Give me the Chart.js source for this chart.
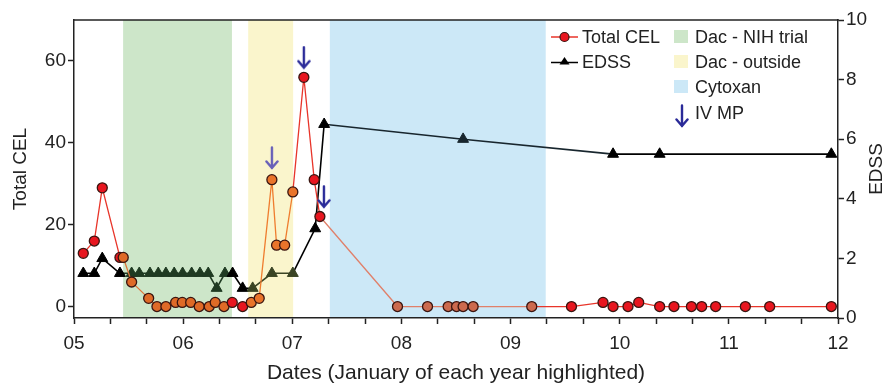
<!DOCTYPE html>
<html lang="en">
<head>
    <meta charset="UTF-8">
    <title>Total CEL and EDSS over time</title>
    <script src="https://cdn.jsdelivr.net/npm/chart.js"></script>
    <style>
        body { margin: 0; background: #fff; }
        #wrap { position: relative; width: 888px; height: 385px; }
        .lg { position: absolute; font-family: "Liberation Sans", Arial, sans-serif; font-size: 18px; color: #222; height: 22px; line-height: 22px; white-space: nowrap; }
        .sw { position: absolute; width: 14px; height: 13px; }
        .sym { position: absolute; }
    </style>
</head>
<body>
<div id="wrap">
    <canvas id="chart" width="888" height="385"></canvas>
    <!-- legend -->
    <svg class="sym" style="left:551px;top:30px" width="27" height="14">
        <line x1="0" y1="7" x2="27" y2="7" stroke="#e8352a" stroke-width="1.5"/>
        <circle cx="13.5" cy="7" r="4.5" fill="#e8161f" stroke="#3a1510" stroke-width="1.2"/>
    </svg>
    <div class="lg" style="left:582px;top:26px">Total CEL</div>
    <svg class="sym" style="left:551px;top:55px" width="27" height="14">
        <line x1="0" y1="7.5" x2="27" y2="7.5" stroke="#000" stroke-width="1.5"/>
        <polygon points="13.5,2 18.5,9.5 8.5,9.5" fill="#000"/>
    </svg>
    <div class="lg" style="left:582px;top:51px">EDSS</div>
    <div class="sw" style="left:674px;top:30px;background:#cde6c9"></div>
    <div class="lg" style="left:695px;top:26px">Dac - NIH trial</div>
    <div class="sw" style="left:674px;top:55px;background:#faf5cc"></div>
    <div class="lg" style="left:695px;top:51px">Dac - outside</div>
    <div class="sw" style="left:674px;top:80px;background:#cce8f7"></div>
    <div class="lg" style="left:695px;top:76px">Cytoxan</div>
    <svg class="sym" style="left:675px;top:104px" width="14" height="24">
        <path d="M7 1.5 L7 22 M1.5 15.5 L7 22 L12.5 15.5" fill="none" stroke="#2a2a98" stroke-width="2.4" stroke-linecap="round"/>
    </svg>
    <div class="lg" style="left:695px;top:102px">IV MP</div>
</div>

<script>
    // dates are in years (5 = Jan 2005)
    const celDates = [5.085, 5.186, 5.259, 5.421, 5.451, 5.528, 5.684, 5.760, 5.842, 5.931, 5.992, 6.069,
        6.147, 6.239, 6.294, 6.374, 6.450, 6.545, 6.624, 6.697, 6.813, 6.856, 6.930, 7.005, 7.106, 7.201,
        7.253, 7.964, 8.239, 8.428, 8.505, 8.565, 8.657, 9.194, 9.558, 9.847, 9.939, 10.076, 10.174,
        10.366, 10.497, 10.657, 10.751, 10.879, 11.151, 11.374, 11.939];
    const celValues = [13, 16, 29, 12, 12, 6, 2, 0, 0, 1, 1, 1,
        0, 0, 1, 0, 1, 0, 1, 2, 31, 15, 15, 28, 56, 31,
        22, 0, 0, 0, 0, 0, 0, 0, 0, 1, 0, 0, 1,
        0, 0, 0, 0, 0, 0, 0, 0];

    const edssDates = [5.085, 5.186, 5.259, 5.421, 5.528, 5.598, 5.696, 5.772, 5.842, 5.918, 5.995, 6.078,
        6.154, 6.230, 6.307, 6.383, 6.453, 6.545, 6.637, 6.813, 7.005, 7.210, 7.292, 8.565, 9.939,
        10.366, 11.939];
    const edssValues = [1.5, 1.5, 2, 1.5, 1.5, 1.5, 1.5, 1.5, 1.5, 1.5, 1.5, 1.5,
        1.5, 1.5, 1, 1.5, 1.5, 1, 1, 1.5, 1.5, 3, 6.5, 6, 5.5,
        5.5, 5.5];

    // IV MP arrows (placed on the Total CEL axis)
    const ivmpDates = [6.813, 7.106, 7.29];
    const ivmpLevels = [36.3, 60.8, 26.8];

    // treatment periods
    const bandNames = ['Dac - NIH trial', 'Dac - outside', 'Cytoxan'];
    const bandStarts = [5.45, 6.596, 7.344];
    const bandEnds = [6.447, 7.008, 9.322];
    const bandColors = ['#cde6c9', '#faf5cc', '#cce8f7'];

    const xTicks = [];
    for (let i = 0; i <= 21; i++) xTicks.push(5 + i / 3);

    // colours used inside each band (index 3 = no band)
    const celFill = ['#df6a27', '#e9742b', '#cc6a4e', '#e8161f'];
    const celLine = ['#e0763a', '#ef7d2f', '#e0806a', '#e8352a'];
    const edssFill = ['#1f3a22', '#3a4424', '#18262e', '#000000'];

    function bandOf(x) {
        for (let i = 0; i < bandStarts.length; i++) {
            if (x >= bandStarts[i] && x <= bandEnds[i]) return i;
        }
        return 3;
    }

    function makeArrow(color) {
        const c = document.createElement('canvas');
        c.width = 14; c.height = 24;
        const g = c.getContext('2d');
        g.strokeStyle = color;
        g.lineWidth = 2.4;
        g.lineCap = 'round';
        g.beginPath();
        g.moveTo(7, 1.5); g.lineTo(7, 22);
        g.moveTo(1.5, 15.5); g.lineTo(7, 22); g.lineTo(12.5, 15.5);
        g.stroke();
        return c;
    }

    const FONT = '"Liberation Sans", Arial, sans-serif';
    const AX = '#222';

    const bandsPlugin = {
        id: 'bands',
        beforeDraw(chart) {
            const { ctx, chartArea, scales } = chart;
            ctx.save();
            bandStarts.forEach((s, i) => {
                const x0 = scales.x.getPixelForValue(s);
                const x1 = scales.x.getPixelForValue(bandEnds[i]);
                ctx.fillStyle = bandColors[i];
                ctx.fillRect(x0, chartArea.top, x1 - x0, chartArea.bottom - chartArea.top);
            });
            ctx.restore();
        },
        afterDraw(chart) {
            const { ctx, chartArea } = chart;
            ctx.save();
            // top frame
            ctx.strokeStyle = AX;
            ctx.lineWidth = 1.5;
            ctx.beginPath();
            ctx.moveTo(chartArea.left - 0.75, chartArea.top);
            ctx.lineTo(chartArea.right + 0.75, chartArea.top);
            ctx.stroke();
            // axis titles
            ctx.fillStyle = AX;
            ctx.textAlign = 'center';
            ctx.textBaseline = 'middle';
            ctx.font = '21px ' + FONT;
            ctx.fillText('Dates (January of each year highlighted)', (chartArea.left + chartArea.right) / 2, 373);
            const midY = (chartArea.top + chartArea.bottom) / 2;
            ctx.font = '19px ' + FONT;
            ctx.translate(21, midY);
            ctx.rotate(-Math.PI / 2);
            ctx.fillText('Total CEL', 0, 0);
            ctx.rotate(Math.PI / 2);
            ctx.translate(877 - 21, 0);
            ctx.rotate(-Math.PI / 2);
            ctx.fillText('EDSS', 0, 0);
            ctx.restore();
        }
    };

    new Chart(document.getElementById('chart'), {
        type: 'scatter',
        data: {
            datasets: [
                {
                    label: 'IV MP',
                    data: ivmpDates.map((d, i) => ({ x: d, y: ivmpLevels[i] })),
                    yAxisID: 'yL',
                    pointStyle: ['#6860b8', '#2a2a98', '#2a2a98'].map(makeArrow),
                    order: -1
                },
                {
                    label: 'Total CEL',
                    data: celDates.map((d, i) => ({ x: d, y: celValues[i] })),
                    yAxisID: 'yL',
                    showLine: true,
                    borderWidth: 1.3,
                    pointRadius: 5,
                    pointBorderWidth: 1.3,
                    pointBorderColor: '#3a1510',
                    pointBackgroundColor: celDates.map(d => celFill[bandOf(d)]),
                    segment: {
                        borderColor: c => celLine[bandOf((c.p0.parsed.x + c.p1.parsed.x) / 2)]
                    },
                    order: 0
                },
                {
                    label: 'EDSS',
                    data: edssDates.map((d, i) => ({ x: d, y: edssValues[i] })),
                    yAxisID: 'yR',
                    showLine: true,
                    borderWidth: 1.6,
                    pointStyle: 'triangle',
                    pointRadius: 6.3,
                    pointBorderWidth: 1,
                    pointBackgroundColor: edssDates.map(d => edssFill[bandOf(d)]),
                    pointBorderColor: edssDates.map(d => edssFill[bandOf(d)]),
                    segment: {
                        borderColor: c => edssFill[bandOf((c.p0.parsed.x + c.p1.parsed.x) / 2)]
                    },
                    order: 1
                }
            ]
        },
        options: {
            responsive: false,
            animation: false,
            events: [],
            layout: { padding: { top: 20 } },
            plugins: { legend: { display: false }, tooltip: { enabled: false } },
            scales: {
                x: {
                    type: 'linear',
                    position: 'bottom',
                    min: 5,
                    max: 12,
                    afterBuildTicks: s => { s.ticks = xTicks.map(v => ({ value: v })); },
                    afterFit: s => { s.height = 67; },
                    ticks: {
                        autoSkip: false,
                        maxRotation: 0,
                        padding: 8,
                        color: AX,
                        font: { family: FONT, size: 19 },
                        callback: v => Math.abs(v - Math.round(v)) < 1e-6 ? String(Math.round(v)).padStart(2, '0') : ''
                    },
                    grid: { drawOnChartArea: false, tickLength: 6, tickColor: AX, tickWidth: 1.5 },
                    border: { color: AX, width: 1.5 }
                },
                yL: {
                    position: 'left',
                    min: -2.8,
                    max: 70,
                    afterBuildTicks: s => { s.ticks = [0, 20, 40, 60].map(v => ({ value: v })); },
                    afterFit: s => { s.width = 74; },
                    ticks: { padding: 2, color: AX, font: { family: FONT, size: 19 } },
                    grid: { drawOnChartArea: false, tickLength: 6, tickColor: AX, tickWidth: 1.5 },
                    border: { color: AX, width: 1.5 }
                },
                yR: {
                    position: 'right',
                    min: 0,
                    max: 10,
                    afterBuildTicks: s => { s.ticks = [0, 2, 4, 6, 8, 10].map(v => ({ value: v })); },
                    afterFit: s => { s.width = 50; },
                    ticks: { padding: 2, color: AX, font: { family: FONT, size: 19 } },
                    grid: { drawOnChartArea: false, tickLength: 6, tickColor: AX, tickWidth: 1.5 },
                    border: { color: AX, width: 1.5 }
                }
            }
        },
        plugins: [bandsPlugin]
    });
</script>
</body>
</html>
